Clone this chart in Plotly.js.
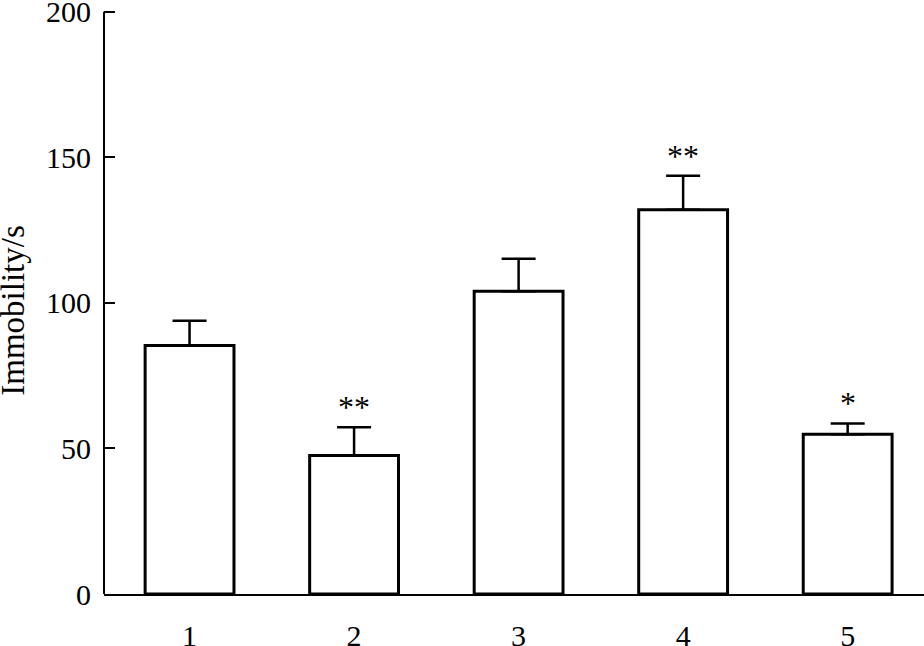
<!DOCTYPE html>
<html>
<head>
<meta charset="utf-8">
<script src="https://cdn.plot.ly/plotly-3.0.1.min.js"></script>
<style>html,body{margin:0;padding:0;background:#fff;}#chart{width:924px;height:646px;}</style>
</head>
<body>
<div id="chart"></div>
<script>
var groups = [1, 2, 3, 4, 5];
var groupLabels = ["1", "2", "3", "4", "5"];
var immobility = [85.4, 47.6, 104.0, 132.0, 54.9];
var sem = [8.5, 9.7, 11.2, 11.7, 3.7];
var significance = ["", "**", "", "**", "*"];
var yTicks = [0, 50, 100, 150, 200];
var yTitle = "Immobility/s";

var FONT = "'Liberation Serif', 'Times New Roman', serif";

var trace = {
  type: "bar",
  x: groups,
  y: immobility,
  width: 0.54,
  marker: { color: "#ffffff", line: { color: "#000000", width: 3 } },
  error_y: {
    type: "data",
    symmetric: false,
    array: sem,
    arrayminus: sem.map(function () { return 0; }),
    color: "#000000",
    thickness: 2.5,
    width: 17
  },
  hoverinfo: "none"
};

var annotations = [];
for (var i = 0; i < groups.length; i++) {
  if (significance[i]) {
    annotations.push({
      x: groups[i],
      y: immobility[i] + sem[i],
      xref: "x", yref: "y",
      text: significance[i],
      showarrow: false,
      yanchor: "bottom",
      yshift: 0,
      font: { family: FONT, size: 32, color: "#000" }
    });
  }
}
annotations.push({
  x: -0.112, y: 0.482, xref: "paper", yref: "paper",
  text: yTitle, textangle: -90, showarrow: false,
  xanchor: "center", yanchor: "middle",
  font: { family: FONT, size: 33, color: "#000" }
});

var layout = {
  width: 924, height: 646,
  margin: { l: 104, r: 0, t: 6, b: 52 },
  paper_bgcolor: "#ffffff",
  plot_bgcolor: "#ffffff",
  showlegend: false,
  font: { family: FONT, size: 30, color: "#000" },
  xaxis: {
    range: [0.48, 5.464],
    tickvals: groups,
    ticktext: groupLabels,
    ticks: "",
    showgrid: false,
    zeroline: false,
    showline: true,
    linecolor: "#000",
    linewidth: 1.5,
    ticklabelstandoff: 14,
    ticklabeloverflow: "allow",
    tickfont: { family: FONT, size: 30, color: "#000" }
  },
  yaxis: {
    range: [0, 202],
    tickvals: yTicks,
    ticktext: yTicks.map(String),
    ticks: "inside",
    ticklen: 11,
    tickwidth: 2,
    tickcolor: "#000",
    showgrid: false,
    zeroline: false,
    showline: false,
    ticklabelstandoff: 12,
    ticklabeloverflow: "allow",
    tickfont: { family: FONT, size: 30, color: "#000" }
  },
  shapes: [{
    type: "line", xref: "paper", yref: "y",
    x0: 0, x1: 0, y0: 0, y1: yTicks[yTicks.length - 1],
    line: { color: "#000", width: 2 }
  }],
  annotations: annotations
};

Plotly.newPlot("chart", [trace], layout, { staticPlot: true, displayModeBar: false });
</script>
</body>
</html>
